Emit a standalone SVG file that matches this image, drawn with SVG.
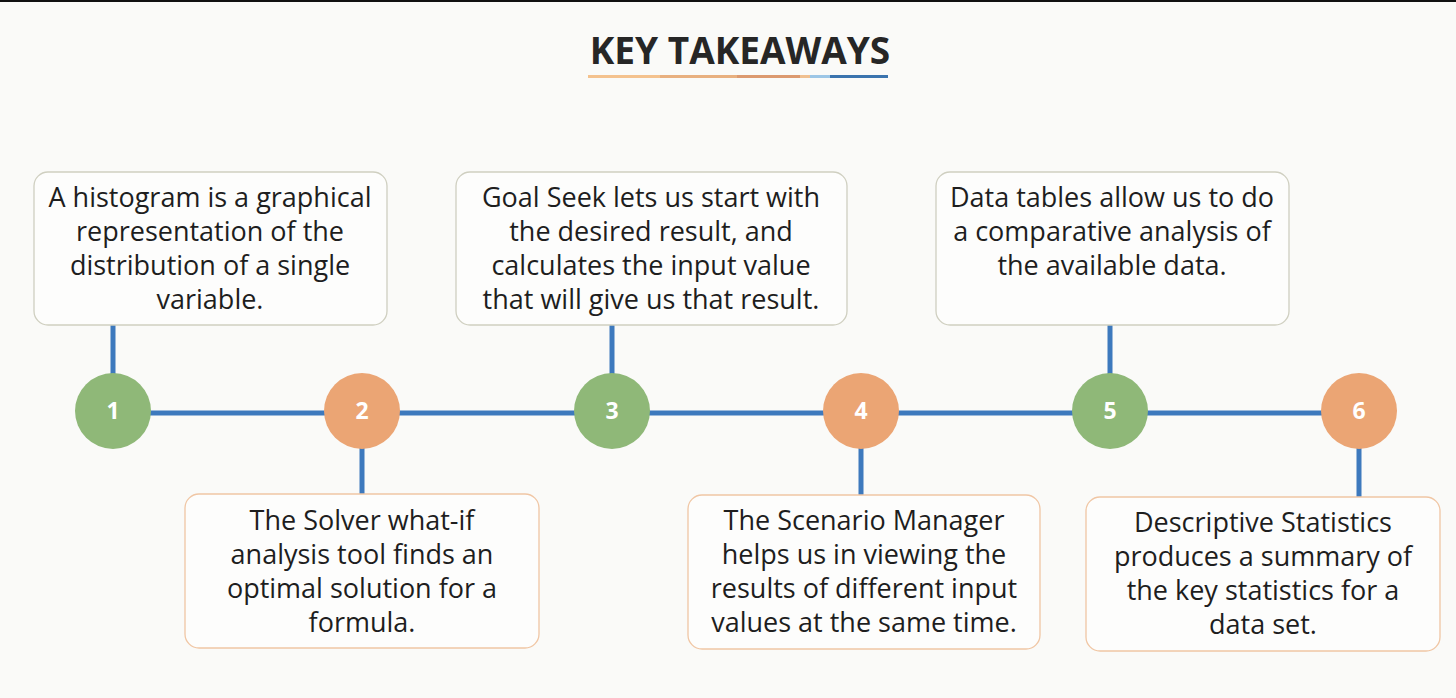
<svg xmlns="http://www.w3.org/2000/svg" width="1456" height="698" viewBox="0 0 1456 698">
<style>
.bg{fill:#fafaf8}
.box{fill:#fdfdfc;stroke-width:1.3}
.bt{stroke:#cfcfc0}
.bb{stroke:#f0c6a4}
.txt{font-family:"Open Sans","Liberation Sans",sans-serif;font-size:27px;fill:#1e1e1e;text-anchor:middle}
.num{font-family:"Open Sans","Liberation Sans",sans-serif;font-size:23px;font-weight:bold;fill:#ffffff;text-anchor:middle}
.g{fill:#8fb878}
.o{fill:#eba574}
.con{stroke:#3d79bd;stroke-width:5;fill:none}
</style>
<rect class="bg" x="0" y="0" width="1456" height="698"/>
<rect x="0" y="0" width="1456" height="2" fill="#111"/>
<g id="title">
<text x="740" y="64" font-family="'Open Sans','Liberation Sans',sans-serif" font-size="37" font-weight="bold" fill="#262626" text-anchor="middle">KEY TAKEAWAYS</text>
<rect x="588" y="75" width="72" height="3" fill="#f4c28e"/>
<rect x="660" y="75" width="77" height="3" fill="#e8b080"/>
<rect x="737" y="75" width="63" height="3" fill="#dc9a70"/>
<rect x="800" y="75" width="10" height="3" fill="#f0c090"/>
<rect x="810" y="75" width="20" height="3" fill="#9cc6e6"/>
<rect x="830" y="75" width="58" height="3" fill="#3b74ae"/>
</g>
<g id="connectors">
<line class="con" x1="113" y1="413" x2="1359" y2="413"/>
<line class="con" x1="113" y1="325" x2="113" y2="380"/>
<line class="con" x1="362" y1="440" x2="362" y2="494"/>
<line class="con" x1="612" y1="325" x2="612" y2="380"/>
<line class="con" x1="861" y1="440" x2="861" y2="495"/>
<line class="con" x1="1110" y1="325" x2="1110" y2="380"/>
<line class="con" x1="1359" y1="440" x2="1359" y2="497"/>
</g>
<g id="node1">
<circle class="g" cx="113" cy="411" r="38"/>
<text class="num" x="113" y="419">1</text>
<rect class="box bt" x="34" y="172" width="353" height="153" rx="14"/>
<text class="txt" x="210" y="207">A histogram is a graphical</text>
<text class="txt" x="210" y="241">representation of the</text>
<text class="txt" x="210" y="275">distribution of a single</text>
<text class="txt" x="210" y="309">variable.</text>
</g>
<g id="node2">
<circle class="o" cx="362" cy="411" r="38"/>
<text class="num" x="362" y="419">2</text>
<rect class="box bb" x="185" y="494" width="354" height="154" rx="14"/>
<text class="txt" x="362" y="530">The Solver what-if</text>
<text class="txt" x="362" y="564">analysis tool finds an</text>
<text class="txt" x="362" y="598">optimal solution for a</text>
<text class="txt" x="362" y="632">formula.</text>
</g>
<g id="node3">
<circle class="g" cx="612" cy="411" r="38"/>
<text class="num" x="612" y="419">3</text>
<rect class="box bt" x="456" y="172" width="391" height="153" rx="14"/>
<text class="txt" x="651" y="207">Goal Seek lets us start with</text>
<text class="txt" x="651" y="241">the desired result, and</text>
<text class="txt" x="651" y="275">calculates the input value</text>
<text class="txt" x="651" y="309">that will give us that result.</text>
</g>
<g id="node4">
<circle class="o" cx="861" cy="411" r="38"/>
<text class="num" x="861" y="419">4</text>
<rect class="box bb" x="688" y="495" width="352" height="154" rx="14"/>
<text class="txt" x="864" y="530">The Scenario Manager</text>
<text class="txt" x="864" y="564">helps us in viewing the</text>
<text class="txt" x="864" y="598">results of different input</text>
<text class="txt" x="864" y="632">values at the same time.</text>
</g>
<g id="node5">
<circle class="g" cx="1110" cy="411" r="38"/>
<text class="num" x="1110" y="419">5</text>
<rect class="box bt" x="936" y="172" width="353" height="153" rx="14"/>
<text class="txt" x="1112" y="207">Data tables allow us to do</text>
<text class="txt" x="1112" y="241">a comparative analysis of</text>
<text class="txt" x="1112" y="275">the available data.</text>
</g>
<g id="node6">
<circle class="o" cx="1359" cy="411" r="38"/>
<text class="num" x="1359" y="419">6</text>
<rect class="box bb" x="1086" y="497" width="354" height="154" rx="14"/>
<text class="txt" x="1263" y="532">Descriptive Statistics</text>
<text class="txt" x="1263" y="566">produces a summary of</text>
<text class="txt" x="1263" y="600">the key statistics for a</text>
<text class="txt" x="1263" y="634">data set.</text>
</g>
</svg>
